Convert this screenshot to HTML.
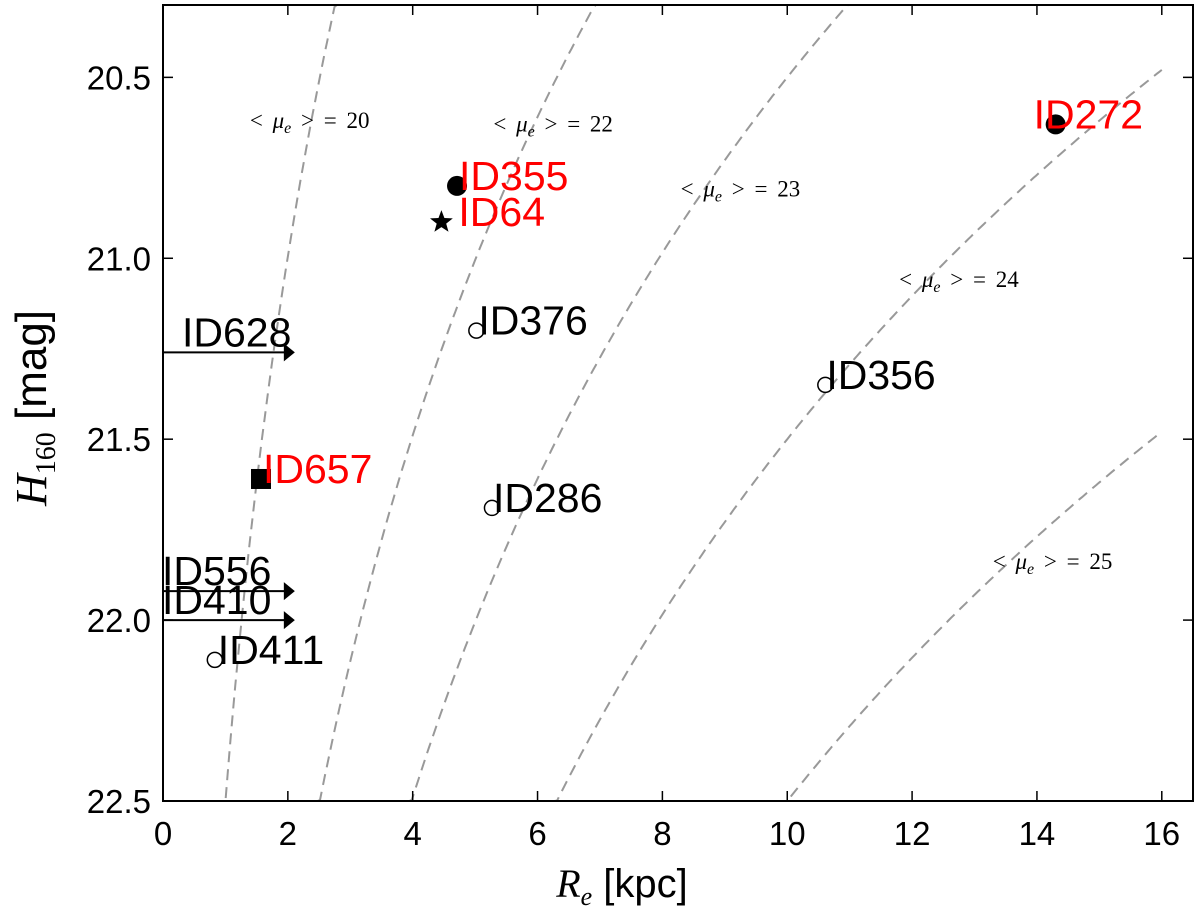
<!DOCTYPE html>
<html><head><meta charset="utf-8"><style>
html,body{margin:0;padding:0;background:#fff;}
svg{display:block;font-family:"Liberation Sans",sans-serif;}
</style></head><body>
<svg id="chart" width="1200" height="917" viewBox="0 0 1200 917">
<g id="curves"></g><g id="marks"></g><g id="axes"></g>
</svg>
<script>
const ids=["ID272","ID355","ID64","ID376","ID356","ID657","ID286","ID411"];
const reVals=[14.3,4.71,4.46,5.02,10.61,1.57,5.27,0.83];
const hVals=[20.63,20.80,20.90,21.20,21.35,21.61,21.69,22.11];
const markers=["filled","filled","star","open","open","square","open","open"];
const labelColors=["red","red","red","black","black","red","black","black"];
const labelDx=[-22,2,17,2,1,2,1,3];
const limitIds=["ID628","ID556","ID410"];
const limitRe=[2,2,2];
const limitH=[21.26,21.92,22.0];
const muLevels=[20,22,23,24,25];
const muLabelRe=[2.35,6.25,9.25,12.75,14.25];
const muLabelH=[20.62,20.63,20.81,21.06,21.84];
const xTicks=[0,2,4,6,8,10,12,14,16];
const yTicks=[20.5,21.0,21.5,22.0,22.5];

const L=163,R=1193,T=5,B=801;
const xMin=0,xMax=16.5,yMin=20.3,yMax=22.5;
const X=v=>L+(v-xMin)/(xMax-xMin)*(R-L);
const Y=v=>T+(v-yMin)/(yMax-yMin)*(B-T);
const NS="http://www.w3.org/2000/svg";
function mk(tag,attrs,parent){const e=document.createElementNS(NS,tag);for(const k in attrs)e.setAttribute(k,attrs[k]);parent.appendChild(e);return e;}
const gC=document.getElementById('curves'),gM=document.getElementById('marks'),gA=document.getElementById('axes');

muLevels.forEach((mu,i)=>{
  let d="";
  for(let k=0;k<=400;k++){
    const re=0.5+k*(16-0.5)/400;
    const h=mu+2.5-5*Math.log10(re);
    if(h<yMin-0.05||h>yMax+0.05) continue;
    d+=(d?"L":"M")+X(re).toFixed(1)+","+Y(Math.min(Math.max(h,yMin),yMax)).toFixed(1);
  }
  const p=mk('path',{d:d,fill:'none',stroke:'#999','stroke-width':2,'stroke-dasharray':'11,7'},gC);
  
  
  const t=mk('text',{x:X(muLabelRe[i]),y:Y(muLabelH[i])+7,'text-anchor':'middle','font-family':'"Liberation Serif",serif','font-size':23,'word-spacing':'4'},gC);
  t.innerHTML='&lt; <tspan font-style="italic">μ</tspan><tspan font-style="italic" font-size="16" dy="5">e</tspan><tspan dy="-5"> &gt; = '+mu+'</tspan>';
  
  
});

limitIds.forEach((id,i)=>{
  const y=Y(limitH[i]),x=X(limitRe[i]);
  const l=mk('line',{x1:L,y1:y,x2:x,y2:y,stroke:'#000','stroke-width':2},gM);
  
  
  const a=mk('path',{d:`M${x-4},${y-9}L${x+7},${y}L${x-4},${y+9}Z`,fill:'#000'},gM);
  
  
  const t=mk('text',{x:id==="ID628"?182:162,y:y-6,'font-size':41},gM);
  t.textContent=id;
  
  
});

ids.forEach((id,i)=>{
  const x=X(reVals[i]),y=Y(hVals[i]);let m;
  if(markers[i]==="filled") m=mk('circle',{cx:x,cy:y,r:10,fill:'#000'},gM);
  else if(markers[i]==="open") m=mk('circle',{cx:x,cy:y,r:7.5,fill:'#fff',stroke:'#000','stroke-width':1.5},gM);
  else if(markers[i]==="square") m=mk('rect',{x:x-10,y:y-10,width:20,height:20,fill:'#000'},gM);
  else {let d="";for(let k=0;k<10;k++){const r=k%2?5:12,a=-Math.PI/2+k*Math.PI/5;d+=(k?"L":"M")+(x+r*Math.cos(a)).toFixed(1)+","+(y+r*Math.sin(a)).toFixed(1);}m=mk('path',{d:d+"Z",fill:'#000'},gM);}
  
  
  const t=mk('text',{x:x+labelDx[i],y:y+4,'font-size':41,fill:labelColors[i]},gM);
  t.textContent=id;
  
  
});

const fr=mk('rect',{x:L,y:T,width:R-L,height:B-T,fill:'none',stroke:'#000','stroke-width':2},gA);


xTicks.forEach(v=>{
  const x=X(v);
  mk('line',{x1:x,y1:B,x2:x,y2:B-10,stroke:'#000','stroke-width':1.5},gA);
  mk('line',{x1:x,y1:T,x2:x,y2:T+10,stroke:'#000','stroke-width':1.5},gA);
  const t=mk('text',{x:x,y:B+44,'text-anchor':'middle','font-size':33},gA);
  t.textContent=v;
  
  
});
yTicks.forEach(v=>{
  const y=Y(v);
  mk('line',{x1:L,y1:y,x2:L+10,y2:y,stroke:'#000','stroke-width':1.5},gA);
  mk('line',{x1:R,y1:y,x2:R-10,y2:y,stroke:'#000','stroke-width':1.5},gA);
  const t=mk('text',{x:151,y:y+12,'text-anchor':'end','font-size':33},gA);
  t.textContent=v.toFixed(1);
  
  
});
const xt=mk('text',{x:622,y:897,'text-anchor':'middle','font-size':40},gA);
xt.innerHTML='<tspan font-family="Liberation Serif,serif" font-style="italic">R</tspan><tspan font-family="Liberation Serif,serif" font-style="italic" font-size="26" dy="8">e</tspan><tspan dy="-8"> [kpc]</tspan>';


const yt=mk('text',{x:0,y:0,'text-anchor':'middle','font-size':44,transform:'translate(46,408) rotate(-90)'},gA);
yt.innerHTML='<tspan font-family="Liberation Serif,serif" font-style="italic">H</tspan><tspan font-family="Liberation Serif,serif" font-size="28" dy="9">160</tspan><tspan dy="-9"> [mag]</tspan>';


</script>
</body></html>
